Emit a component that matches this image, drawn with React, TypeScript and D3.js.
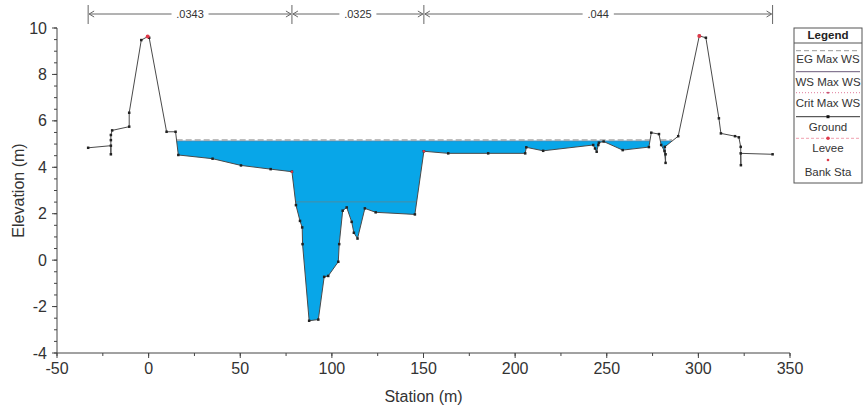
import React from 'react';
import * as d3 from 'd3';

const stations = [
  -33.0, -20.6, -20.6, -20.6, -20.6, -19.9, -10.6, -10.6, -4.0, -0.5, 0.3, 9.8, 14.7,
  16.2, 34.9, 50.4, 66.6, 78.2, 80.4, 82.6, 83.8, 84.0, 87.6, 92.6, 95.8, 98.0, 103.5,
  104.0, 105.9, 108.1, 110.8, 112.0, 114.0, 118.0, 123.9, 145.3, 150.2, 163.5, 185.3,
  205.5, 206.1, 215.3, 242.6, 243.6, 244.5, 245.4, 245.7, 248.3, 258.7, 273.0, 274.3,
  278.5, 279.7, 281.5, 282.1, 282.1, 281.7, 289.0, 300.5, 304.1, 311.2, 312.3, 320.0,
  322.1, 323.1, 323.2, 323.1, 340.5,
];
const elevations = [
  4.84, 4.93, 4.56, 5.17, 5.39, 5.59, 5.75, 6.35, 9.48, 9.63, 9.58, 5.53, 5.53,
  4.53, 4.37, 4.08, 3.92, 3.81, 2.37, 1.69, 1.41, 0.69, -2.61, -2.56, -0.72, -0.68, -0.07,
  0.69, 2.13, 2.27, 1.65, 1.18, 0.93, 2.23, 2.06, 1.97, 4.69, 4.6, 4.6,
  4.6, 4.86, 4.71, 4.96, 4.81, 4.67, 4.96, 5.06, 5.11, 4.74, 4.87, 5.49,
  5.43, 4.96, 4.7, 4.19, 4.56, 4.88, 5.34, 9.66, 9.58, 6.11, 5.46, 5.34,
  5.29, 4.88, 4.09, 4.6, 4.56,
];
const wsElev = 5.13;
const egElev = 5.18;
const critElev = 2.51;
const channelStart = 14.7;
const channelEnd = 289.0;
const leveeStations = [-0.5, 300.5];
const leveeElevs = [9.63, 9.66];
const bankStations = [78.2, 150.2];
const bankElevs = [3.81, 4.69];
const nValues = ['.0343', '.0325', '.044'];
const nBreaks = [-33, 78.2, 150.2, 340.5];
const xTicks = [-50, 0, 50, 100, 150, 200, 250, 300, 350];
const yTicks = [-4, -2, 0, 2, 4, 6, 8, 10];
const legendLabels = ['EG Max WS', 'WS Max WS', 'Crit Max WS', 'Ground', 'Levee', 'Bank Sta'];

const W = 864;
const H = 407;
const FONT = 'Liberation Sans, Arial, sans-serif';

export default function App() {
  const x = d3.scaleLinear().domain([-50, 350]).range([57, 790]);
  const y = d3.scaleLinear().domain([-4, 10]).range([353, 28]);

  const pts = stations.map((s, i) => [s, elevations[i]] as [number, number]);

  const ch = pts.filter(p => p[0] >= channelStart && p[0] <= channelEnd);
  const ext: [number, number][] = [];
  for (let i = 0; i < ch.length; i++) {
    if (i > 0) {
      const a = ch[i - 1], b = ch[i];
      if ((a[1] - wsElev) * (b[1] - wsElev) < 0) {
        const t = (wsElev - a[1]) / (b[1] - a[1]);
        ext.push([a[0] + t * (b[0] - a[0]), wsElev]);
      }
    }
    ext.push(ch[i]);
  }
  const wetArea = d3.area<[number, number]>()
    .x(d => x(d[0]))
    .y0(() => y(wsElev))
    .y1(d => y(Math.min(d[1], wsElev)));

  const runs: [number, number][] = [];
  let cur: [number, number] | null = null;
  for (let i = 1; i < ext.length; i++) {
    const a = ext[i - 1], b = ext[i];
    const wet = a[1] <= wsElev + 1e-9 && b[1] <= wsElev + 1e-9;
    if (wet) {
      if (!cur) cur = [a[0], b[0]];
      else cur[1] = Math.max(cur[1], b[0]);
    } else if (cur) {
      runs.push(cur);
      cur = null;
    }
  }
  if (cur) runs.push(cur);

  const critRun: number[] = [];
  for (let i = 1; i < pts.length; i++) {
    const a = pts[i - 1], b = pts[i];
    if ((a[1] - critElev) * (b[1] - critElev) < 0 && a[0] > 50 && a[0] < 160) {
      const t = (critElev - a[1]) / (b[1] - a[1]);
      critRun.push(a[0] + t * (b[0] - a[0]));
    }
  }

  const groundLine = d3.line<[number, number]>().x(d => x(d[0])).y(d => y(d[1]));

  const xMinor = d3.range(-50, 351, 25);
  const yMinor = d3.range(-4, 10.01, 0.5);

  const annY = 14;
  const legendX = 794, legendW = 68, legendTop = 28;
  const legendLineY = [50.7, 71.7, 92.7, 116.7, 138.3, 160];
  const legendTextY = [59.3, 81.7, 102.7, 126.7, 148.3, 172.3];

  return (
    <svg width={W} height={H} style={{ position: 'absolute', left: 0, top: 0, background: '#fff' }} fontFamily={FONT}>
      <rect x={0} y={0} width={W} height={H} fill="#fff" />
      <path d={wetArea(ext) || ''} fill="#08a6e8" stroke="none" />
      {critRun.length >= 2 && (
        <line x1={x(critRun[0])} x2={x(critRun[critRun.length - 1])} y1={y(critElev)} y2={y(critElev)} stroke="#4b8ea3" strokeWidth={1} />
      )}
      {runs.map((r, i) => (
        <g key={'r' + i}>
          <line x1={x(r[0])} x2={x(r[1])} y1={y(wsElev)} y2={y(wsElev)} stroke="#3d8fc0" strokeWidth={1} />
          <line x1={x(r[0])} x2={x(r[1])} y1={y(egElev)} y2={y(egElev)} stroke="#a8a8a8" strokeWidth={1.5} strokeDasharray="6,3" />
        </g>
      ))}
      <path d={groundLine(pts) || ''} fill="none" stroke="#4a4a4a" strokeWidth={1} />
      {pts.map((p, i) => (
        <rect key={'g' + i} x={x(p[0]) - 1.25} y={y(p[1]) - 1.25} width={2.5} height={2.5} fill="#222" />
      ))}
      {leveeStations.map((s, i) => (
        <circle key={'l' + i} cx={x(s)} cy={y(leveeElevs[i])} r={2} fill="#e03a4a" />
      ))}
      {bankStations.map((s, i) => (
        <circle key={'b' + i} cx={x(s)} cy={y(bankElevs[i])} r={1.2} fill="#e03a4a" />
      ))}

      <line x1={57} x2={57} y1={y(10)} y2={y(-4)} stroke="#444" strokeWidth={1} />
      <line x1={57} x2={x(350)} y1={y(-4)} y2={y(-4)} stroke="#444" strokeWidth={1} />
      {yMinor.map((v, i) => (
        <line key={'ym' + i} x1={57} x2={54} y1={y(v)} y2={y(v)} stroke="#444" strokeWidth={1} />
      ))}
      {yTicks.map(v => (
        <g key={'yt' + v}>
          <line x1={57} x2={52} y1={y(v)} y2={y(v)} stroke="#444" strokeWidth={1} />
          <text x={47} y={y(v)} dy="0.35em" textAnchor="end" fontSize={16} fill="#333">{v}</text>
        </g>
      ))}
      {xMinor.map((v, i) => (
        <line key={'xm' + i} x1={x(v)} x2={x(v)} y1={353} y2={356} stroke="#444" strokeWidth={1} />
      ))}
      {xTicks.map(v => (
        <g key={'xt' + v}>
          <line x1={x(v)} x2={x(v)} y1={353} y2={358} stroke="#444" strokeWidth={1} />
          <text x={x(v)} y={374} textAnchor="middle" fontSize={16} fill="#333">{v}</text>
        </g>
      ))}
      <text x={(57 + 790) / 2} y={402} textAnchor="middle" fontSize={16} fill="#333">Station (m)</text>
      <text transform={`translate(24,${(28 + 353) / 2}) rotate(-90)`} textAnchor="middle" fontSize={16} fill="#333">Elevation (m)</text>

      {nBreaks.map((s, i) => (
        <line key={'nb' + i} x1={x(s)} x2={x(s)} y1={5} y2={24} stroke="#666" strokeWidth={1} />
      ))}
      {nValues.map((n, i) => {
        const x0 = x(nBreaks[i]), x1 = x(nBreaks[i + 1]);
        const cx = (x0 + x1) / 2;
        const tw = n.length * 5.8 + 8;
        return (
          <g key={'n' + i}>
            <line x1={x0 + 1} x2={cx - tw / 2} y1={annY} y2={annY} stroke="#666" strokeWidth={1} />
            <line x1={cx + tw / 2} x2={x1 - 1} y1={annY} y2={annY} stroke="#666" strokeWidth={1} />
            <path d={`M${x0 + 6},${annY - 3} L${x0 + 1},${annY} L${x0 + 6},${annY + 3}`} fill="none" stroke="#666" strokeWidth={1} />
            <path d={`M${x1 - 6},${annY - 3} L${x1 - 1},${annY} L${x1 - 6},${annY + 3}`} fill="none" stroke="#666" strokeWidth={1} />
            <text x={cx} y={annY} dy="0.35em" textAnchor="middle" fontSize={11} fill="#333">{n}</text>
          </g>
        );
      })}

      <rect x={legendX} y={legendTop} width={legendW} height={155} fill="#fff" stroke="#555" strokeWidth={1} />
      <text x={legendX + legendW / 2} y={39} textAnchor="middle" fontSize={11.5} fontWeight="bold" fill="#222">Legend</text>
      <line x1={legendX} x2={legendX + legendW} y1={43} y2={43} stroke="#555" strokeWidth={1} />
      {legendLabels.map((lab, i) => {
        const ly = legendLineY[i];
        const lx0 = legendX + 2, lx1 = legendX + legendW - 2, mx = legendX + legendW / 2;
        let sample: React.ReactNode = null;
        if (i === 0) sample = <line x1={lx0} x2={lx1} y1={ly} y2={ly} stroke="#999" strokeWidth={1} strokeDasharray="5,3" />;
        if (i === 1) sample = <line x1={lx0} x2={lx1} y1={ly} y2={ly} stroke="#6a5a7a" strokeWidth={1} />;
        if (i === 2) sample = (
          <g>
            <line x1={lx0} x2={lx1} y1={ly} y2={ly} stroke="#e07a9a" strokeWidth={1} strokeDasharray="1,2" />
            <circle cx={mx} cy={ly} r={1} fill="#c04060" />
          </g>
        );
        if (i === 3) sample = (
          <g>
            <line x1={lx0} x2={lx1} y1={ly} y2={ly} stroke="#333" strokeWidth={1} />
            <rect x={mx - 1.5} y={ly - 1.5} width={3} height={3} fill="#111" />
          </g>
        );
        if (i === 4) sample = (
          <g>
            <line x1={lx0} x2={lx1} y1={ly} y2={ly} stroke="#f0a0b0" strokeWidth={1} strokeDasharray="3,2" />
            <circle cx={mx} cy={ly} r={1.8} fill="#e03a4a" />
          </g>
        );
        if (i === 5) sample = <circle cx={mx} cy={ly} r={1.3} fill="#e03a4a" />;
        return (
          <g key={'lg' + i}>
            {sample}
            <text x={mx} y={legendTextY[i]} dy="0.35em" textAnchor="middle" fontSize={11.5} fill="#333">{lab}</text>
          </g>
        );
      })}
    </svg>
  );
}
